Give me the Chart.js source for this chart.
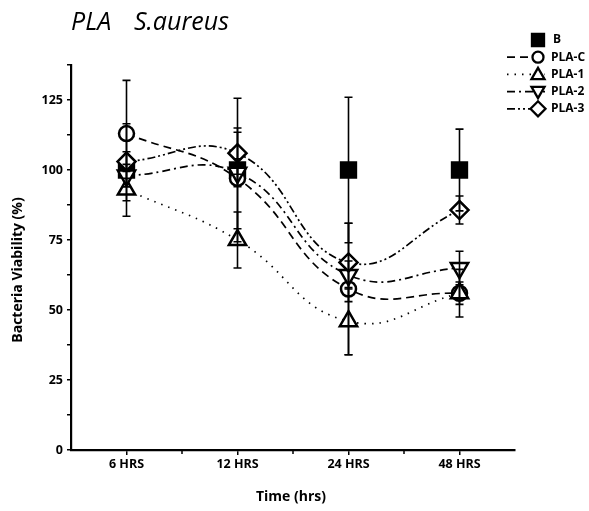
<!DOCTYPE html>
<html>
<head>
<meta charset="utf-8">
<script src="https://cdn.jsdelivr.net/npm/chart.js@4/dist/chart.umd.min.js"></script>
<style>
  html, body { margin: 0; padding: 0; background: #fff; }
  #wrap { width: 589px; height: 511px; position: relative; }
</style>
</head>
<body>
<div id="wrap"><canvas id="viabilityChart"></canvas></div>
<script>
// values
const categories = ['6 HRS', '12 HRS', '24 HRS', '48 HRS'];
const bValues    = [100, 100, 100, 100];
const bErr       = [16.5, 25.6, 26, 14.6];
const plaCValues = [113, 97, 57.5, 56];
const plaCErr    = [19, 18, 23.5, 4];
const pla1Values = [93, 75, 46, 56];
const pla1Err    = [4, 10, 12, 8.5];
const pla2Values = [98, 99, 62.5, 65];
const pla2Err    = [4, 5, 5, 6];
const pla3Values = [103, 106, 67, 85.7];
const pla3Err    = [3.5, 7.5, 14, 5];
const yTicks = [0, 25, 50, 75, 100, 125];

const FONT = '"Open Sans", Lato, sans-serif';

function series(label, data, err, style, rotation, radius, dash, showLine) {
  return {
    label, data, err,
    showLine,
    borderColor: '#000',
    borderWidth: 1.7,
    borderDash: dash,
    backgroundColor: style === 'rect' ? '#000' : '#fff',
    pointStyle: style,
    rotation: rotation,
    pointRadius: radius,
    pointBorderWidth: 2.5,
    pointBorderColor: '#000',
    pointBackgroundColor: style === 'rect' ? '#000' : '#fff',
    tension: 0.45,
    fill: false,
  };
}

const datasets = [
  series('PLA-3', pla3Values, pla3Err, 'rectRot', 0, 9, [8, 3, 2, 3, 2, 3], true),
  series('PLA-2', pla2Values, pla2Err, 'triangle', 180, 10, [8, 4, 2, 4], true),
  series('PLA-1', pla1Values, pla1Err, 'triangle', 0, 10, [1.5, 6], true),
  series('PLA-C', plaCValues, plaCErr, 'circle', 0, 7.5, [8, 5], true),
  series('B', bValues, bErr, 'rect', 0, 10.5, [], false),
];

const extras = {
  id: 'extras',
  afterDatasetsDraw(chart) {
    const ctx = chart.ctx;
    const x = chart.scales.x, y = chart.scales.y;
    ctx.save();
    ctx.strokeStyle = '#000';
    ctx.lineWidth = 1.6;
    ctx.setLineDash([]);
    chart.data.datasets.forEach(ds => {
      ds.data.forEach((v, i) => {
        const px = x.getPixelForValue(i);
        const top = y.getPixelForValue(v + ds.err[i]);
        const bot = y.getPixelForValue(v - ds.err[i]);
        ctx.beginPath();
        ctx.moveTo(px, top); ctx.lineTo(px, bot);
        ctx.moveTo(px - 4, top); ctx.lineTo(px + 4, top);
        ctx.moveTo(px - 4, bot); ctx.lineTo(px + 4, bot);
        ctx.stroke();
      });
    });
    ctx.restore();
  },
  afterDraw(chart) {
    const ctx = chart.ctx;
    const x = chart.scales.x;
    const area = chart.chartArea;
    ctx.save();
    // minor ticks between categories on the x axis
    ctx.strokeStyle = '#000';
    ctx.lineWidth = 1.5;
    for (let i = 0; i < categories.length - 1; i++) {
      const px = (x.getPixelForValue(i) + x.getPixelForValue(i + 1)) / 2;
      ctx.beginPath();
      ctx.moveTo(px, area.bottom); ctx.lineTo(px, area.bottom + 4);
      ctx.stroke();
    }
    // title
    ctx.fillStyle = '#000';
    ctx.font = 'italic 25px ' + FONT;
    ctx.textAlign = 'left';
    ctx.textBaseline = 'alphabetic';
    ctx.fillText('PLA', 71, 30);
    ctx.fillText('S.aureus', 134, 30);
    // axis titles
    ctx.font = 'bold 14px ' + FONT;
    ctx.textAlign = 'center';
    ctx.textBaseline = 'middle';
    ctx.fillText('Time (hrs)', 291, 497);
    ctx.translate(18, 270);
    ctx.rotate(-Math.PI / 2);
    ctx.fillText('Bacteria Viability (%)', 0, 0);
    ctx.restore();

    // legend
    ctx.save();
    const order = ['B', 'PLA-C', 'PLA-1', 'PLA-2', 'PLA-3'];
    order.forEach((name, k) => {
      const ds = chart.data.datasets.find(d => d.label === name);
      const ly = 40 + k * 17.2;
      const mx = 538;
      ctx.strokeStyle = '#000';
      ctx.lineWidth = 1.7;
      if (ds.showLine) {
        ctx.setLineDash(ds.borderDash);
        ctx.beginPath();
        ctx.moveTo(507, ly); ctx.lineTo(551, ly);
        ctx.stroke();
        ctx.setLineDash([]);
        ctx.fillStyle = '#fff';
        ctx.fillRect(545, ly - 3, 10, 6);
      }
      ctx.fillStyle = ds.pointBackgroundColor;
      ctx.lineWidth = 2.3;
      Chart.helpers.drawPoint(ctx, {
        pointStyle: ds.pointStyle,
        rotation: ds.rotation,
        radius: ds.pointStyle === 'rect' ? 8.5 : (ds.pointStyle === 'circle' ? 5.5 : 7.5),
        borderWidth: 2.3,
      }, mx, ly + (ds.pointStyle === 'triangle' ? (ds.rotation ? -1 : 1) : 0));
      ctx.fillStyle = '#000';
      ctx.font = 'bold 12px ' + FONT;
      ctx.textAlign = 'left';
      ctx.textBaseline = 'middle';
      ctx.fillText(name, name === 'B' ? 553 : 551, ly);
    });
    ctx.restore();
  }
};

new Chart(document.getElementById('viabilityChart'), {
  type: 'line',
  data: { labels: categories, datasets },
  plugins: [extras],
  options: {
    responsive: true,
    maintainAspectRatio: false,
    animation: false,
    layout: { padding: { top: 65, right: 74, left: 0, bottom: 0 } },
    plugins: { legend: { display: false }, tooltip: { enabled: false } },
    scales: {
      x: {
        type: 'category',
        offset: true,
        afterFit(scale) { scale.height = 61; },
        border: { color: '#000', width: 2.2 },
        grid: { drawOnChartArea: false, color: '#000', tickLength: 5, lineWidth: 1.5 },
        ticks: { color: '#000', font: { family: FONT, size: 12.5, weight: 'bold' }, padding: 2 },
      },
      y: {
        min: 0,
        max: 137.5,
        afterFit(scale) { scale.width = 71; },
        border: { color: '#000', width: 2.2 },
        grid: { drawOnChartArea: false, color: '#000', tickLength: 4, lineWidth: 1.5 },
        ticks: {
          stepSize: 12.5,
          autoSkip: false,
          color: '#000',
          font: { family: FONT, size: 12.5, weight: 'bold' },
          padding: 4,
          callback: v => (yTicks.includes(v) ? v : ''),
        },
      },
    },
  },
});
</script>
</body>
</html>
